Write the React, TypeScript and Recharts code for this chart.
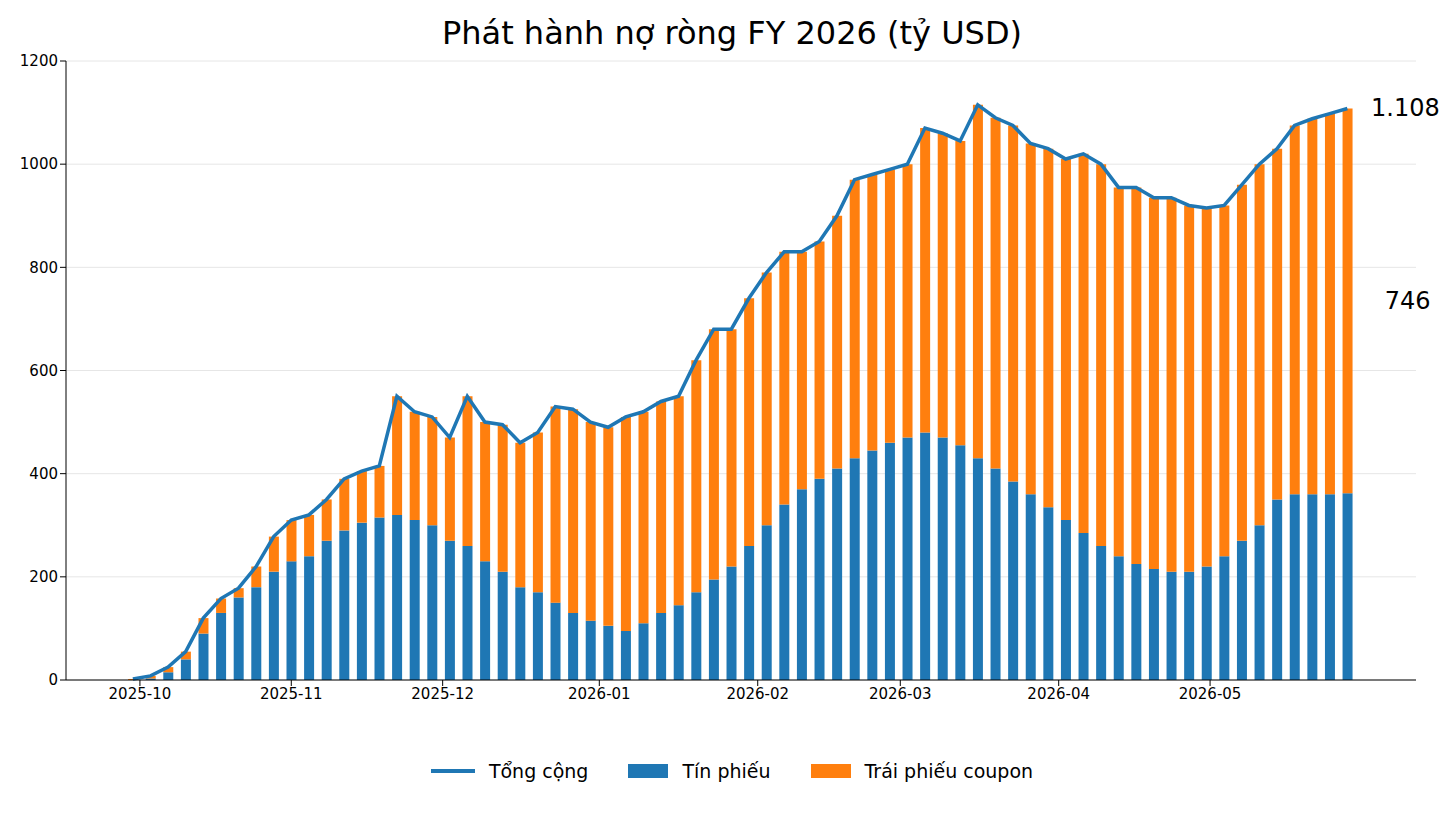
import React from 'react'
import { ComposedChart, Bar, Line, XAxis, YAxis, CartesianGrid } from 'recharts'

const bills = [
  0, 3, 15, 40, 90, 130, 160, 180, 210, 230, 240, 270, 290, 305, 315, 320, 310, 300, 270, 260,
  230, 210, 180, 170, 150, 130, 115, 105, 95, 110, 130, 145, 170, 195, 220, 260, 300, 340, 370, 390,
  410, 430, 445, 460, 470, 480, 470, 455, 430, 410, 385, 360, 335, 310, 285, 260, 240, 225, 215, 210,
  210, 220, 240, 270, 300, 350, 360, 360, 360, 362,
]
const totals = [
  2, 8, 25, 55, 120, 158, 178, 220, 278, 310, 320, 350, 390, 405, 415, 550, 520, 510, 470, 550,
  500, 495, 460, 480, 530, 525, 500, 490, 510, 520, 540, 550, 620, 680, 680, 740, 790, 830, 830, 850,
  900, 970, 980, 990, 1000, 1070, 1060, 1045, 1115, 1090, 1075, 1040, 1030, 1010, 1020, 1000, 955, 955, 935, 935,
  920, 915, 920, 960, 1000, 1030, 1075, 1088, 1098, 1108,
]
const monthTicks = [0.4, 9.0, 17.6, 26.5, 35.5, 43.6, 52.6, 61.2]
const monthLabels = ['2025-10', '2025-11', '2025-12', '2026-01', '2026-02', '2026-03', '2026-04', '2026-05']
const yTicks = [0, 200, 400, 600, 800, 1000, 1200]

const data = totals.map((t, i) => ({ i, bills: bills[i], coupons: t - bills[i], total: t }))
const last = data.length - 1

const BLUE = '#1f77b4'
const ORANGE = '#ff7f0e'
const font = 'DejaVu Sans, sans-serif'

const endLabel = (text: string, dx: number, mode: 'mid' | 'top') => (props: any) => {
  if (props.index !== last) return null
  const y = mode === 'mid' ? props.y + props.height / 2 : props.y
  return (
    <text x={props.x + (props.width || 0) + dx} y={y} dy={8} fontSize={24} fill="#000" fontFamily={font} textAnchor="middle">
      {text}
    </text>
  )
}

export default function App() {
  return (
    <div style={{ position: 'relative', width: 1448, height: 817, fontFamily: font }}>
      <div style={{ position: 'absolute', top: 6, width: '100%', textAlign: 'center', fontSize: 32 }}>
        Phát hành nợ ròng FY 2026 (tỷ USD)
      </div>
      <div style={{ position: 'absolute', top: 0, left: 0 }}>
        <ComposedChart width={1448} height={710} data={data} margin={{ top: 53, right: 40, left: 0, bottom: 10 }}>
          <CartesianGrid vertical={false} stroke="#e6e6e6" />
          <XAxis
            dataKey="i"
            type="number"
            domain={[-3.8, 72.9]}
            ticks={monthTicks}
            tickFormatter={(v: number) => monthLabels[monthTicks.indexOf(v)]}
            tick={{ fontSize: 15, fill: '#000', fontFamily: font }}
            axisLine={{ stroke: '#000' }}
            tickLine={{ stroke: '#000' }}
            height={28}
          />
          <YAxis
            domain={[0, 1200]}
            ticks={yTicks}
            tick={{ fontSize: 15, fill: '#000', fontFamily: font }}
            axisLine={{ stroke: '#000' }}
            tickLine={{ stroke: '#000' }}
            width={58}
          />
          <Bar dataKey="bills" stackId="a" fill={BLUE} barSize={10} isAnimationActive={false} label={endLabel('362', 30, 'mid')} />
          <Bar dataKey="coupons" stackId="a" fill={ORANGE} barSize={10} isAnimationActive={false} label={endLabel('746', 55, 'mid')} />
          <Line dataKey="total" stroke={BLUE} strokeWidth={3.5} dot={false} isAnimationActive={false}
            label={(p: any) => p.index === last ? (
              <text x={p.x + 58} y={p.y} dy={8} fontSize={24} fontFamily={font} textAnchor="middle">1.108</text>
            ) : null} />
        </ComposedChart>
      </div>
      <div style={{ position: 'absolute', top: 752, left: 0, width: '100%', display: 'flex', justifyContent: 'center', gap: 40, fontSize: 19 }}>
        <span style={{ display: 'flex', alignItems: 'center', gap: 14 }}>
          <span style={{ width: 44, height: 4, background: BLUE, display: 'inline-block' }} />Tổng cộng
        </span>
        <span style={{ display: 'flex', alignItems: 'center', gap: 14 }}>
          <span style={{ width: 40, height: 14, background: BLUE, display: 'inline-block' }} />Tín phiếu
        </span>
        <span style={{ display: 'flex', alignItems: 'center', gap: 14 }}>
          <span style={{ width: 40, height: 14, background: ORANGE, display: 'inline-block' }} />Trái phiếu coupon
        </span>
      </div>
    </div>
  )
}
